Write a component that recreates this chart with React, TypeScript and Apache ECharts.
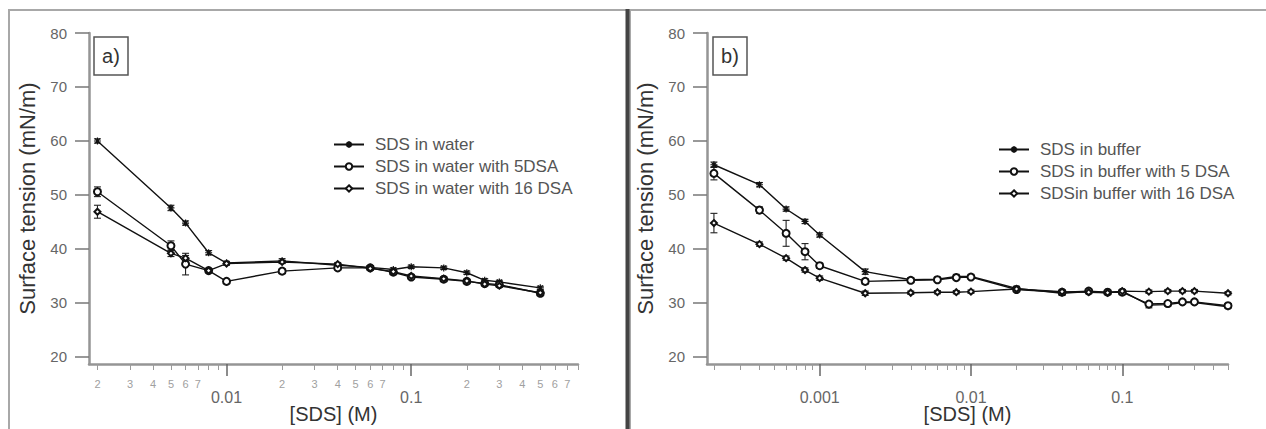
import React, { useEffect, useRef } from "react";
import * as echarts from "echarts";

// ---------- Panel a) data ----------
const concA = [0.002, 0.005, 0.006, 0.008, 0.01, 0.02, 0.04, 0.06, 0.08, 0.1, 0.15, 0.2, 0.25, 0.3, 0.5];
const waterA = [60.0, 47.6, 44.8, 39.3, 37.4, 37.8, 37.0, 36.6, 36.2, 36.7, 36.5, 35.6, 34.2, 33.9, 32.8];
const water5A = [50.6, 40.6, 37.2, 36.0, 34.0, 35.9, 36.5, 36.5, 35.7, 34.8, 34.4, 34.0, 33.6, 33.4, 31.8];
const water16A = [46.9, 39.2, 38.3, 36.0, 37.3, 37.6, 37.2, 36.4, 35.8, 35.0, 34.5, 34.1, 33.5, 33.2, 31.9];
const errWaterA = [0.4, 0.5, 0.4, 0.4, 0.3, 0.4, 0.3, 0.3, 0.3, 0.3, 0.3, 0.3, 0.3, 0.3, 0.3];
const errWater5A = [0.9, 0.9, 2.0, 0.4, 0.4, 0.4, 0.4, 0.4, 0.4, 0.4, 0.4, 0.4, 0.4, 0.4, 0.4];
const errWater16A = [1.2, 0.6, 0.5, 0.3, 0.3, 0.3, 0.3, 0.3, 0.3, 0.3, 0.3, 0.3, 0.3, 0.3, 0.3];

// ---------- Panel b) data ----------
const concB = [0.0002, 0.0004, 0.0006, 0.0008, 0.001, 0.002, 0.004, 0.006, 0.008, 0.01, 0.02, 0.04, 0.06, 0.08, 0.1, 0.15, 0.2, 0.25, 0.3, 0.5];
const bufferB = [55.6, 51.9, 47.4, 45.1, 42.6, 35.8, 34.3, 34.4, 34.9, 34.9, 32.7, 31.8, 32.1, 31.9, 32.2, 29.6, 29.7, 30.1, 30.1, 29.3];
const buffer5B = [54.0, 47.2, 42.9, 39.5, 36.9, 34.0, 34.2, 34.3, 34.7, 34.8, 32.5, 32.0, 32.2, 32.0, 32.0, 29.8, 29.9, 30.2, 30.2, 29.5];
const buffer16B = [44.8, 40.9, 38.3, 36.1, 34.6, 31.8, 31.9, 32.0, 32.0, 32.1, 32.6, 32.1, 32.0, 31.9, 32.2, 32.1, 32.2, 32.2, 32.2, 31.8];
const errBufferB = [0.5, 0.4, 0.4, 0.4, 0.4, 0.5, 0.4, 0.4, 0.4, 0.4, 0.4, 0.4, 0.3, 0.3, 0.3, 0.5, 0.3, 0.3, 0.3, 0.3];
const errBuffer5B = [1.2, 0.6, 2.4, 1.5, 0.5, 0.5, 0.3, 0.3, 0.3, 0.3, 0.3, 0.3, 0.3, 0.3, 0.3, 0.3, 0.3, 0.3, 0.3, 0.3];
const errBuffer16B = [1.8, 0.4, 0.4, 0.4, 0.4, 0.4, 0.3, 0.3, 0.3, 0.3, 0.3, 0.3, 0.3, 0.3, 0.3, 0.3, 0.3, 0.3, 0.3, 0.3];

const namesA = ["SDS in water", "SDS in water with 5DSA", "SDS in water with 16 DSA"];
const namesB = ["SDS in buffer", "SDS in buffer with 5 DSA", "SDSin buffer with 16 DSA"];

// ---------- axes ----------
const xRangeA = [0.0018, 0.8];
const xRangeB = [0.00018, 0.5];
const majorTicksA = [0.01, 0.1];
const minorTicksA = [0.002, 0.003, 0.004, 0.005, 0.006, 0.007, 0.008, 0.009, 0.02, 0.03, 0.04, 0.05, 0.06, 0.07, 0.08, 0.09, 0.2, 0.3, 0.4, 0.5, 0.6, 0.7, 0.8];
const minorLabelsA = [0.002, 0.003, 0.004, 0.005, 0.006, 0.007, 0.02, 0.03, 0.04, 0.05, 0.06, 0.07, 0.2, 0.3, 0.4, 0.5, 0.6, 0.7];
const majorTicksB = [0.001, 0.01, 0.1];
const minorTicksB = [0.0002, 0.0003, 0.0004, 0.0005, 0.0006, 0.0007, 0.0008, 0.0009, 0.002, 0.003, 0.004, 0.005, 0.006, 0.007, 0.008, 0.009, 0.02, 0.03, 0.04, 0.05, 0.06, 0.07, 0.08, 0.09, 0.2, 0.3, 0.4, 0.5];
const yTicks = [20, 30, 40, 50, 60, 70, 80];
const yRange = [18.7, 80];

const FONT = "Liberation Sans, Arial, sans-serif";
const LABEL_GRAY = "#666";
const AXIS_GRAY = "#959595";

const lg = (v: number) => Math.log10(v);

function minorFmt(v: number) {
  const m = Math.round(Math.pow(10, v - Math.floor(v + 1e-9)));
  return String(m);
}
function majorFmt(v: number) {
  return String(Math.pow(10, Math.round(v)));
}

function tickAxes(gridIndex: number, range: number[], minorTicks: number[], minorLabels: number[], majorTicks: number[]) {
  const min = lg(range[0]);
  const max = lg(range[1]);
  return [
    {
      type: "value",
      gridIndex,
      min,
      max,
      position: "bottom",
      name: "[SDS] (M)",
      nameLocation: "middle",
      nameGap: 40,
      nameTextStyle: { fontSize: 20, color: "#333", fontFamily: FONT },
      axisLine: { show: true, onZero: false, lineStyle: { color: AXIS_GRAY, width: 2.5 } },
      axisTick: { show: true, customValues: minorTicks.map(lg), length: 6, lineStyle: { color: "#9a9a9a", width: 1 } },
      axisLabel: {
        show: minorLabels.length > 0,
        customValues: minorLabels.map(lg),
        formatter: minorFmt,
        fontSize: 11,
        color: "#a0a0a0",
        margin: 14,
        fontFamily: FONT,
      },
      splitLine: { show: false },
    },
    {
      type: "value",
      gridIndex,
      min,
      max,
      position: "bottom",
      axisLine: { show: false, onZero: false },
      axisTick: { show: true, customValues: majorTicks.map(lg), length: 12, lineStyle: { color: "#666", width: 1.5 } },
      axisLabel: {
        show: true,
        customValues: majorTicks.map(lg),
        formatter: majorFmt,
        fontSize: 16,
        color: LABEL_GRAY,
        margin: 25,
        fontFamily: FONT,
      },
      splitLine: { show: false },
    },
  ];
}

function yAxis(gridIndex: number) {
  return {
    type: "value",
    gridIndex,
    min: yRange[0],
    max: yRange[1],
    name: "Surface tension (mN/m)",
    nameLocation: "middle",
    nameGap: 51,
    nameRotate: 90,
    nameTextStyle: { fontSize: 22, color: "#333", fontFamily: FONT },
    axisLine: { show: true, onZero: false, lineStyle: { color: AXIS_GRAY, width: 2.5 } },
    axisTick: { show: true, customValues: yTicks, length: 14, lineStyle: { color: "#777", width: 1.5 } },
    axisLabel: { show: true, customValues: yTicks, fontSize: 15, color: LABEL_GRAY, margin: 22, fontFamily: FONT },
    splitLine: { show: false },
  };
}

const SYMBOLS = [
  "path://M0,5L10,5M5,0L5,10M1.5,1.5L8.5,8.5M8.5,1.5L1.5,8.5",
  "emptyCircle",
  "emptyDiamond",
];

function lineSeries(name: string, xAxisIndex: number, yAxisIndex: number, conc: number[], vals: number[], k: number) {
  return {
    type: "line",
    name,
    xAxisIndex,
    yAxisIndex,
    data: conc.map((c, i) => [c, vals[i]]),
    symbol: SYMBOLS[k],
    symbolSize: k === 2 ? 6 : 7,
    showSymbol: true,
    color: "#111",
    lineStyle: { color: "#111", width: 1.4 },
    itemStyle: { color: "#111", borderColor: "#111", borderWidth: 1.2 },
    z: 4,
  };
}

function errorSeries(xAxisIndex: number, yAxisIndex: number, conc: number[], vals: number[], errs: number[]) {
  return {
    type: "custom",
    xAxisIndex,
    yAxisIndex,
    silent: true,
    z: 3,
    data: conc.map((c, i) => [c, vals[i] - errs[i], vals[i] + errs[i]]),
    encode: { x: 0, y: [1, 2] },
    renderItem: (_params: any, api: any) => {
      const x = api.value(0);
      const lo = api.coord([x, api.value(1)]);
      const hi = api.coord([x, api.value(2)]);
      const w = 3.5;
      const st = { stroke: "#222", lineWidth: 1.1 };
      return {
        type: "group",
        children: [
          { type: "line", shape: { x1: lo[0], y1: lo[1], x2: hi[0], y2: hi[1] }, style: st },
          { type: "line", shape: { x1: lo[0] - w, y1: lo[1], x2: lo[0] + w, y2: lo[1] }, style: st },
          { type: "line", shape: { x1: hi[0] - w, y1: hi[1], x2: hi[0] + w, y2: hi[1] }, style: st },
        ],
      };
    },
  };
}

function legend(names: string[], left: number, top: number) {
  return {
    data: names,
    orient: "vertical",
    left,
    top,
    padding: 0,
    itemWidth: 30,
    itemHeight: 8,
    itemGap: 5,
    selectedMode: false,
    textStyle: { fontSize: 17, lineHeight: 16, color: "#555", fontFamily: FONT, padding: [0, 0, 0, 6] },
  };
}

function panelLabel(text: string, x: number) {
  return {
    type: "group",
    children: [
      { type: "rect", shape: { x, y: 37, width: 34, height: 38 }, style: { fill: "#fff", stroke: "#555", lineWidth: 1.5 } },
      {
        type: "text",
        x: x + 17,
        y: 56,
        style: { text, fontSize: 20, fill: "#333", fontFamily: FONT, align: "center", verticalAlign: "middle" },
      },
    ],
  };
}

export default function App() {
  const ref = useRef<HTMLDivElement>(null);
  useEffect(() => {
    if (!ref.current) return;
    const chart = echarts.init(ref.current, null, { renderer: "svg" });
    const option: any = {
      animation: false,
      backgroundColor: "#fff",
      grid: [
        { left: 89, top: 33, width: 489, height: 331, containLabel: false, outerBoundsMode: "none" },
        { left: 707, top: 33, width: 521, height: 331, containLabel: false, outerBoundsMode: "none" },
      ],
      xAxis: [
        { type: "log", logBase: 10, gridIndex: 0, min: xRangeA[0], max: xRangeA[1], show: false },
        ...tickAxes(0, xRangeA, minorTicksA, minorLabelsA, majorTicksA),
        { type: "log", logBase: 10, gridIndex: 1, min: xRangeB[0], max: xRangeB[1], show: false },
        ...tickAxes(1, xRangeB, minorTicksB, [], majorTicksB),
      ],
      yAxis: [yAxis(0), yAxis(1)],
      legend: [legend(namesA, 333, 136), legend(namesB, 998, 141)],
      graphic: [
        { type: "rect", shape: { x: 9, y: 10, width: 618, height: 440 }, style: { fill: "none", stroke: "#a8a8a8", lineWidth: 2 }, z: -1 },
        { type: "rect", shape: { x: 630, y: 10, width: 650, height: 440 }, style: { fill: "none", stroke: "#a8a8a8", lineWidth: 2 }, z: -1 },
        { type: "line", shape: { x1: 627.5, y1: 9, x2: 627.5, y2: 429 }, style: { stroke: "#444", lineWidth: 4 } },
        panelLabel("a)", 94),
        panelLabel("b)", 713),
      ],
      series: [
        errorSeries(0, 0, concA, waterA, errWaterA),
        errorSeries(0, 0, concA, water5A, errWater5A),
        errorSeries(0, 0, concA, water16A, errWater16A),
        lineSeries(namesA[0], 0, 0, concA, waterA, 0),
        lineSeries(namesA[1], 0, 0, concA, water5A, 1),
        lineSeries(namesA[2], 0, 0, concA, water16A, 2),
        errorSeries(3, 1, concB, bufferB, errBufferB),
        errorSeries(3, 1, concB, buffer5B, errBuffer5B),
        errorSeries(3, 1, concB, buffer16B, errBuffer16B),
        lineSeries(namesB[0], 3, 1, concB, bufferB, 0),
        lineSeries(namesB[1], 3, 1, concB, buffer5B, 1),
        lineSeries(namesB[2], 3, 1, concB, buffer16B, 2),
      ],
    };
    chart.setOption(option);
    return () => chart.dispose();
  }, []);
  return (
    <div
      ref={ref}
      style={{ position: "fixed", left: 0, top: 0, width: 1266, height: 429, background: "#fff" }}
    />
  );
}
